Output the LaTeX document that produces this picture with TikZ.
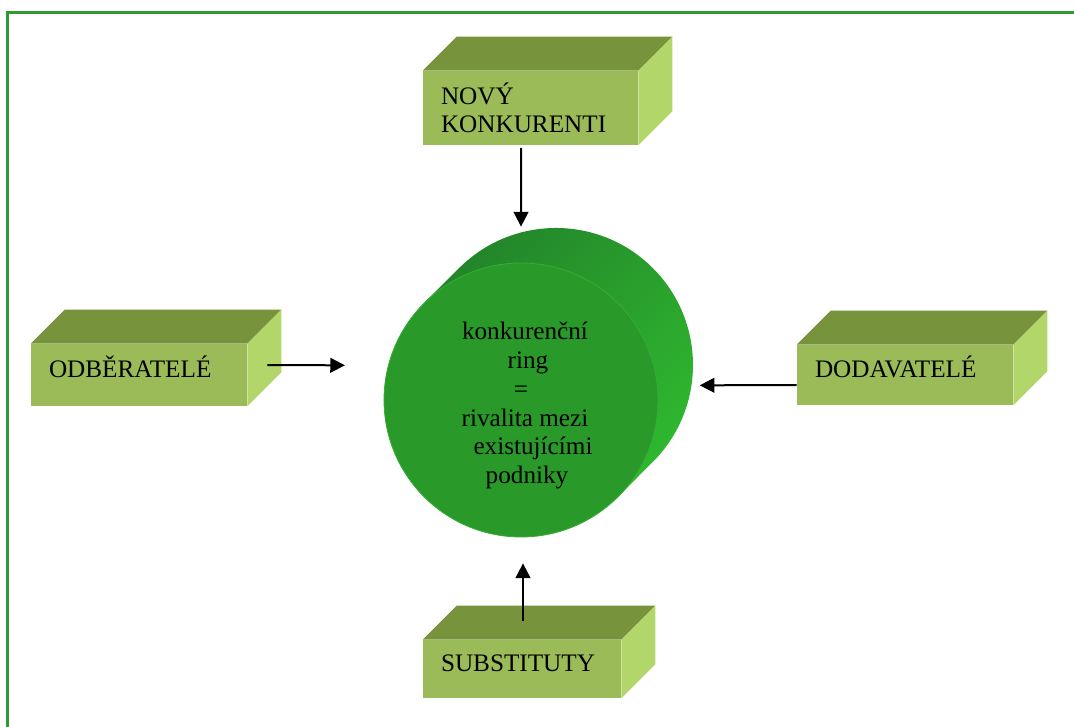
\documentclass[tikz,border=0pt]{standalone}
\usepackage{fontspec}
\setmainfont{Liberation Serif}
\usetikzlibrary{arrows.meta}

\definecolor{boxfront}{HTML}{9BBB59}
\definecolor{boxtop}{HTML}{77933C}
\definecolor{boxside}{HTML}{B3D66B}
\definecolor{ramecgreen}{HTML}{339933}
\definecolor{kruhfront}{HTML}{299A29}
\definecolor{kruhdark}{HTML}{23852A}
\definecolor{kruhlight}{HTML}{2FB82F}
\definecolor{kruhedge}{HTML}{34AE34}

% horni a bocni stena kvadru k uzlu
\newcommand{\kvadr}[1]{%
  \fill[boxtop] (#1.north west) -- ++(34,-34) -- ([shift={(34,-34)}]#1.north east) -- (#1.north east) -- cycle;
  \fill[boxside] (#1.north east) -- ++(34,-34) -- ([shift={(34,-34)}]#1.south east) -- (#1.south east) -- cycle;
}

\begin{document}
\begin{tikzpicture}[x=0.75pt, y=-0.75pt,
    blok/.style={rectangle, fill=boxfront, inner xsep=13.5pt, inner ysep=0pt, align=left, font=\fontsize{18.9}{21}\selectfont},
    jeden/.style={text height=13pt, text depth=10pt},
    kruh/.style={circle, fill=kruhfront, draw=kruhedge, line width=0.6pt, minimum size=205.5pt, inner sep=0pt, align=center, font=\fontsize{18.9}{21.6}\selectfont},
    pil/.style={-{Triangle[length=11pt,width=11pt]}, line width=1.5pt},
    ramec/.style={draw=ramecgreen, line width=2.25pt}
]

  % ramecek
  \useasboundingbox (0,0) rectangle (1074,727);
  \draw[ramec] (7.5,727) -- (7.5,12.5) -- (1074,12.5);

  % valec uprostred
  \shade[top color=kruhdark, bottom color=kruhlight, shading angle=45]
    (424.1,303.1) -- (459.1,268.1) arc[start angle=-135, end angle=45, radius=137] -- (617.9,496.9) -- cycle;
  \node[kruh] (ring) at (521,400) {\rule{0pt}{21.5pt}\hspace*{6pt}konkurenční\\ \hspace*{10.5pt}ring\\ =\hspace*{12pt}\\ \hspace*{6pt}rivalita mezi\\ \hspace*{18pt}existujícími\\ \hspace*{9pt}podniky};

  % ctyri sily kolem
  \node[blok, text width=134.25pt, minimum height=55.5pt] (nov) at (530.5,108) {NOVÝ\\KONKURENTI};
  \node[blok, jeden, text width=135pt, minimum height=46.5pt] (odb) at (139,375) {ODBĚRATELÉ};
  \node[blok, jeden, text width=135pt, minimum height=45pt] (dod) at (905,375) {DODAVATELÉ};
  \node[blok, jeden, text width=121.5pt, minimum height=43.5pt] (sub) at (522,669) {SUBSTITUTY};
  \kvadr{nov}
  \kvadr{odb}
  \kvadr{dod}
  \kvadr{sub}

  % sipky ke kruhu
  \draw[pil] ([xshift=-7pt,yshift=-2pt]nov.south) -- ([yshift=27pt]ring.north);
  \draw[pil] ([xshift=15pt,yshift=7.5pt]odb.east) -- ([xshift=-29pt,yshift=26pt]ring.west);
  \draw[pil] ([yshift=-7.5pt]dod.west) -- ([xshift=31pt,yshift=11pt]ring.east);
  \draw[pil] ([xshift=0.75pt,yshift=14.25pt]sub.north) -- ([xshift=1.5pt,yshift=-19.5pt]ring.south);
\end{tikzpicture}
\end{document}
